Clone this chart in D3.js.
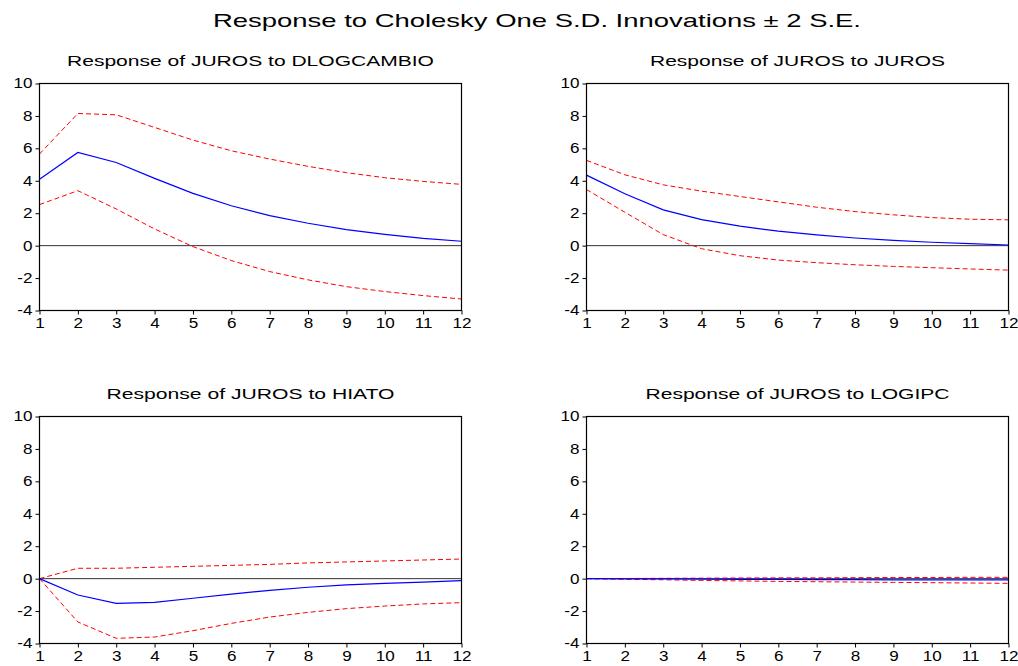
<!DOCTYPE html>
<html>
<head>
<meta charset="utf-8">
<script src="https://cdn.jsdelivr.net/npm/d3@7"></script>
<style>
    body { margin: 0; background: #fff; }
    text { font-family: "Liberation Sans", Arial, sans-serif; fill: #000; }
</style>
</head>
<body>
<div class="charts-div"></div>
<script>
// periods on the x axis
const periods = [1, 2, 3, 4, 5, 6, 7, 8, 9, 10, 11, 12];
const yTicks = [-4, -2, 0, 2, 4, 6, 8, 10];

const mainTitle = "Response to Cholesky One S.D. Innovations \u00b1 2 S.E.";
const panelTitles = [
    "Response of JUROS to DLOGCAMBIO",
    "Response of JUROS to JUROS",
    "Response of JUROS to HIATO",
    "Response of JUROS to LOGIPC"
];

// impulse responses (blue) and +/- 2 S.E. bands (red dashed)
const dlogcambioResp = [4.09, 5.75, 5.13, 4.15, 3.22, 2.46, 1.85, 1.38, 0.99, 0.70, 0.45, 0.27];
const dlogcambioUpper = [5.65, 8.15, 8.07, 7.29, 6.51, 5.85, 5.34, 4.89, 4.50, 4.19, 3.96, 3.78];
const dlogcambioLower = [2.53, 3.39, 2.26, 1.03, -0.06, -0.92, -1.60, -2.11, -2.53, -2.83, -3.08, -3.29];

const jurosResp = [4.35, 3.20, 2.21, 1.61, 1.20, 0.89, 0.66, 0.47, 0.33, 0.21, 0.12, 0.04];
const jurosUpper = [5.26, 4.37, 3.75, 3.36, 3.03, 2.70, 2.37, 2.10, 1.90, 1.73, 1.63, 1.59];
const jurosLower = [3.46, 2.06, 0.68, -0.19, -0.62, -0.89, -1.05, -1.18, -1.28, -1.36, -1.44, -1.51];

const hiatoResp = [0, -1.01, -1.52, -1.46, -1.21, -0.95, -0.72, -0.53, -0.39, -0.29, -0.21, -0.12];
const hiatoUpper = [0, 0.64, 0.64, 0.70, 0.76, 0.82, 0.88, 0.97, 1.03, 1.09, 1.15, 1.21];
const hiatoLower = [0, -2.67, -3.68, -3.60, -3.21, -2.76, -2.37, -2.08, -1.85, -1.69, -1.56, -1.48];

const logipcResp = [0, -0.01, -0.02, -0.03, -0.04, -0.05, -0.06, -0.06, -0.07, -0.07, -0.08, -0.08];
const logipcUpper = [0, 0.01, 0.02, 0.03, 0.04, 0.05, 0.05, 0.06, 0.07, 0.07, 0.08, 0.08];
const logipcLower = [0, -0.04, -0.07, -0.11, -0.14, -0.17, -0.19, -0.21, -0.23, -0.25, -0.27, -0.29];

const panelSeries = [
    [dlogcambioResp, dlogcambioUpper, dlogcambioLower],
    [jurosResp, jurosUpper, jurosLower],
    [hiatoResp, hiatoUpper, hiatoLower],
    [logipcResp, logipcUpper, logipcLower]
];

// plot frames in pixels
const frames = [
    { left: 39.5, right: 461.5, top: 83.5, bottom: 310.5, titleY: 66, titleW: 367 },
    { left: 586.5, right: 1008.5, top: 83.5, bottom: 310.5, titleY: 66, titleW: 295 },
    { left: 39.5, right: 461.5, top: 416.5, bottom: 643.5, titleY: 399, titleW: 288 },
    { left: 586.5, right: 1008.5, top: 416.5, bottom: 643.5, titleY: 399, titleW: 304 }
];

const width = 1018, height = 666;
const stretch = 1.22; // original glyphs are wider than Arial

const svg = d3.select(".charts-div").append("svg")
    .attr("width", width).attr("height", height);

const widen = (sel, factor) => {
    sel.each(function () {
        const len = this.getComputedTextLength();
        d3.select(this).attr("textLength", len * factor).attr("lengthAdjust", "spacingAndGlyphs");
    });
};

svg.append("text")
    .attr("x", 537).attr("y", 27)
    .attr("text-anchor", "middle")
    .style("font-size", "19px")
    .attr("textLength", 648).attr("lengthAdjust", "spacingAndGlyphs")
    .text(mainTitle);

frames.forEach((f, i) => {
    const x = d3.scaleLinear().domain([1, 12]).range([f.left, f.right]);
    const y = d3.scaleLinear().domain([-4, 10]).range([f.bottom, f.top]);
    const g = svg.append("g");

    g.append("text")
        .attr("x", (f.left + f.right) / 2).attr("y", f.titleY)
        .attr("text-anchor", "middle")
        .style("font-size", "15px")
        .attr("textLength", f.titleW).attr("lengthAdjust", "spacingAndGlyphs")
        .text(panelTitles[i]);

    // axes (plain hyphen for negatives, like the original)
    const yAxis = g.append("g").attr("transform", `translate(${f.left},0)`)
        .call(d3.axisLeft(y).tickValues(yTicks).tickFormat(d => String(d))
            .tickSize(4).tickSizeOuter(0).tickPadding(3));
    const xAxis = g.append("g").attr("transform", `translate(0,${f.bottom})`)
        .call(d3.axisBottom(x).tickValues(periods).tickFormat(d => String(d))
            .tickSize(4).tickSizeOuter(0).tickPadding(4));
    [yAxis, xAxis].forEach(ax => {
        ax.select(".domain").remove();
        ax.selectAll("line").attr("stroke", "#000");
        ax.selectAll("text").style("font-size", "14px").attr("font-family", null);
        widen(ax.selectAll("text"), stretch);
    });

    // zero line
    g.append("line")
        .attr("x1", f.left).attr("x2", f.right)
        .attr("y1", y(0)).attr("y2", y(0))
        .attr("stroke", "#333").attr("stroke-width", 1);

    const line = d3.line().x((d, j) => x(periods[j])).y(d => y(d));
    const [resp, upper, lower] = panelSeries[i];

    [upper, lower].forEach(band => {
        g.append("path").datum(band)
            .attr("d", line)
            .attr("fill", "none")
            .attr("stroke", "#ff0000")
            .attr("stroke-width", 1)
            .attr("stroke-dasharray", "5,3");
    });
    g.append("path").datum(resp)
        .attr("d", line)
        .attr("fill", "none")
        .attr("stroke", "#0000ff")
        .attr("stroke-width", 1.2);

    // frame
    g.append("rect")
        .attr("x", f.left).attr("y", f.top)
        .attr("width", f.right - f.left).attr("height", f.bottom - f.top)
        .attr("fill", "none").attr("stroke", "#000").attr("stroke-width", 1.2);
});
</script>
</body>
</html>
